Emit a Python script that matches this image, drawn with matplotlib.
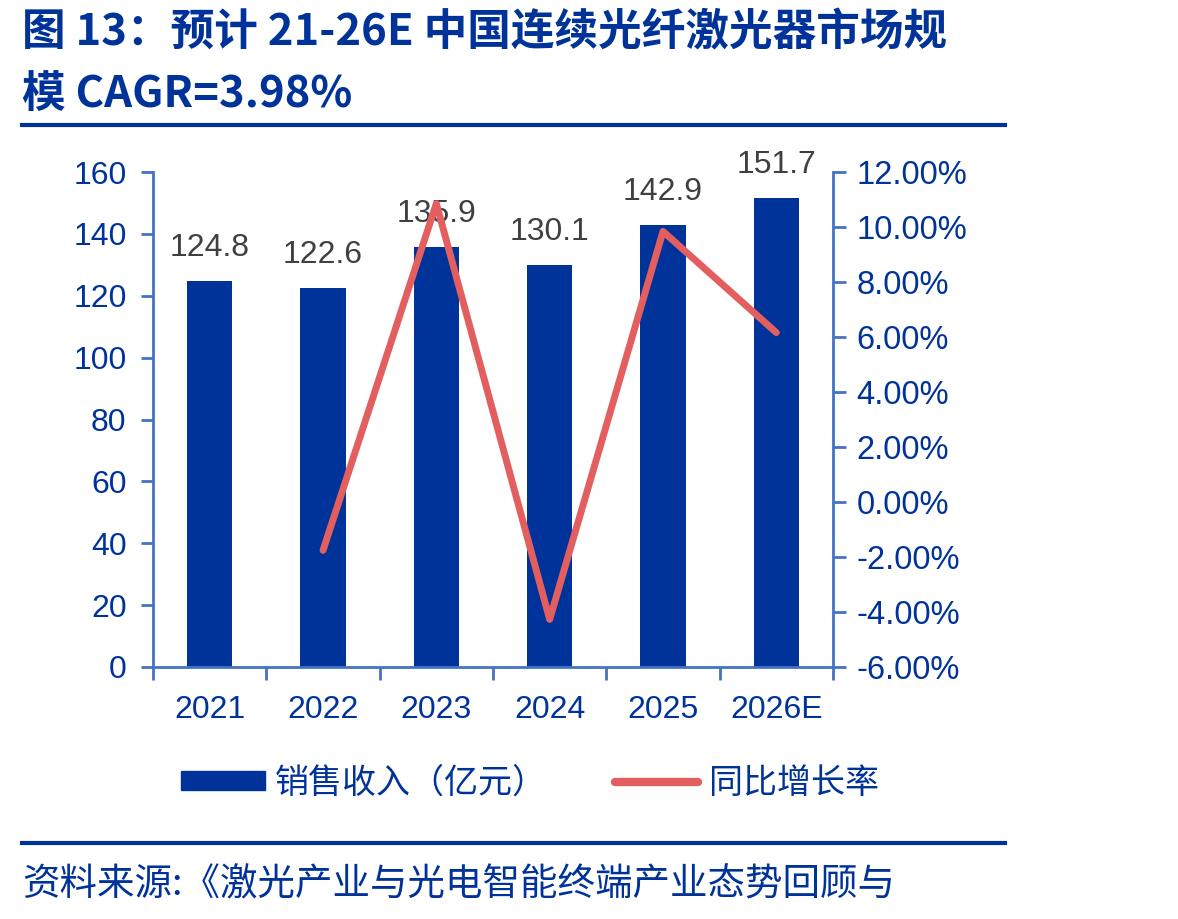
import matplotlib.pyplot as plt
from matplotlib.lines import Line2D
from matplotlib.patches import Patch
from matplotlib.ticker import FuncFormatter

plt.rcParams['font.family'] = ['Liberation Sans', 'Noto Sans CJK SC', 'DejaVu Sans']

years = ["2021", "2022", "2023", "2024", "2025", "2026E"]
sales = [124.8, 122.6, 135.9, 130.1, 142.9, 151.7]
growth_years = ["2022", "2023", "2024", "2025", "2026E"]
growth = [-1.76, 10.85, -4.27, 9.84, 6.16]

navy = "#003399"
axis_blue = "#4472C4"
red = "#E35F5F"

fig = plt.figure(figsize=(11.78, 9.19), dpi=100)
ax = fig.add_axes([153/1178, 252/919, 680/1178, 495/919])
ax2 = ax.twinx()

x = list(range(len(years)))
ax.bar(x, sales, width=0.4, color=navy, zorder=2)
for xi, v in zip(x, sales):
    ax.annotate(f"{v:.1f}", (xi, v), xytext=(0, 18), textcoords="offset points",
                ha="center", va="baseline", fontsize=23, color="#404040")

gx = [years.index(y) for y in growth_years]
ax2.plot(gx, growth, color=red, lw=5, solid_capstyle="round", solid_joinstyle="round")

ax.set_xlim(-0.5, len(years) - 0.5)
ax.set_ylim(0, 160)
ax.set_yticks(range(0, 161, 20))
ax2.set_ylim(-6, 12)
ax2.set_yticks(range(-6, 13, 2))
ax2.yaxis.set_major_formatter(FuncFormatter(lambda v, p: f"{v:.2f}%"))

ax.set_xticks(x)
ax.set_xticklabels(years)
ax.set_xticks([i - 0.5 for i in range(len(years) + 1)], minor=True)
ax.tick_params(axis="x", which="major", length=0, pad=20, labelsize=23, labelcolor=navy)
ax.tick_params(axis="x", which="minor", length=9, width=2, color=axis_blue, direction="out")
ax.tick_params(axis="y", length=9, width=2, color=axis_blue, labelsize=23, labelcolor=navy, pad=10)
ax2.tick_params(axis="y", length=9, width=2, color=axis_blue, labelsize=23.5, labelcolor=navy, pad=8)

for a in (ax, ax2):
    a.spines["top"].set_visible(False)
    for s in ("left", "right", "bottom"):
        a.spines[s].set_color(axis_blue)
        a.spines[s].set_linewidth(2)
ax.spines["right"].set_visible(False)
ax2.spines["left"].set_visible(False)
ax2.spines["bottom"].set_visible(False)

handles = [Patch(color=navy, label="销售收入（亿元）"),
           Line2D([], [], color=red, lw=6, solid_capstyle="round", label="同比增长率")]
fig.legend(handles=handles, loc="center", bbox_to_anchor=(530/1178, 1 - 783/919), ncol=2,
           frameon=False, labelcolor=navy, handlelength=2.45, handleheight=0.5,
           handletextpad=0.3, columnspacing=2.0, prop={'family': ['Noto Sans CJK SC'], 'size': 24.5})

fig.text(22/1178, 1 - 32/919, "图 13：预计 21-26E 中国连续光纤激光器市场规", fontsize=31.4,
         fontweight="bold", color=navy, va="center", family=["Noto Sans CJK SC"])
fig.text(22/1178, 1 - 94/919, "模 CAGR=3.98%", fontsize=31.4,
         fontweight="bold", color=navy, va="center", family=["Noto Sans CJK SC"])
fig.add_artist(Line2D([22/1178, 1005/1178], [1 - 125/919, 1 - 125/919], color=navy, lw=3))
fig.add_artist(Line2D([22/1178, 1005/1178], [1 - 843/919, 1 - 843/919], color=navy, lw=3))
fig.text(22/1178, 1 - 885/919, "资料来源:《激光产业与光电智能终端产业态势回顾与", fontsize=27,
         color=navy, va="center", family=["Noto Sans CJK SC"])

fig.savefig("out.png", dpi=100)
